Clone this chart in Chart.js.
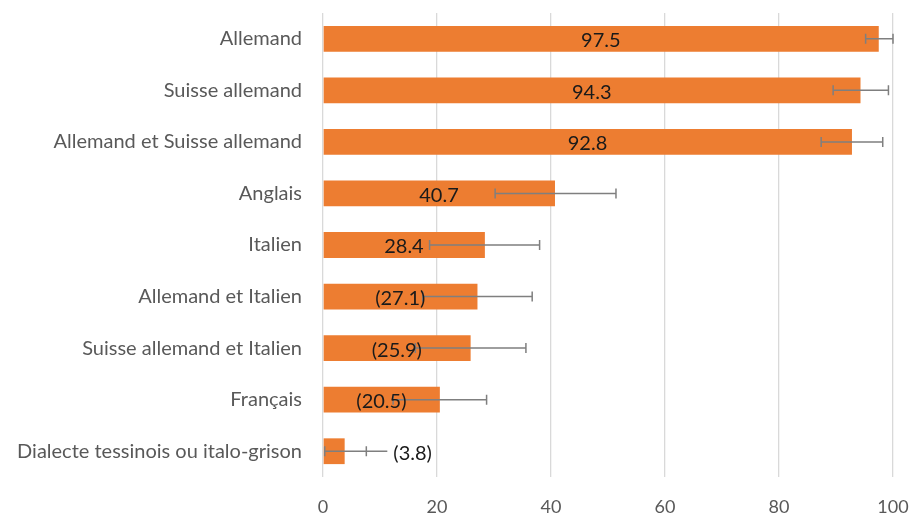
<!DOCTYPE html>
<html>
<head>
<meta charset="utf-8">
<script src="https://cdn.jsdelivr.net/npm/chart.js@4"></script>
<style>
  html, body { margin: 0; padding: 0; background: #ffffff; }
  #wrap { width: 912px; height: 513px; position: relative; }
</style>
</head>
<body>
<div id="wrap"><canvas id="c"></canvas></div>
<script>
const categories = [
  'Allemand',
  'Suisse allemand',
  'Allemand et Suisse allemand',
  'Anglais',
  'Italien',
  'Allemand et Italien',
  'Suisse allemand et Italien',
  'Français',
  'Dialecte tessinois ou italo-grison'
];
const values = [97.5, 94.3, 92.8, 40.7, 28.4, 27.1, 25.9, 20.5, 3.8];
const valueLabels = ['97.5', '94.3', '92.8', '40.7', '28.4', '(27.1)', '(25.9)', '(20.5)', '(3.8)'];
const errLow  = [95.2, 89.5, 87.4, 30.2, 18.7, 17.5, 16.2, 12.3, 0.3];
const errHigh = [100.0, 99.2, 98.2, 51.4, 38.0, 36.7, 35.6, 28.7, 7.6];
const xTicks = [0, 20, 40, 60, 80, 100];

const FONT = 'Lato, "Open Sans", sans-serif';

const overlay = {
  id: 'overlay',
  afterDatasetsDraw(chart) {
    const ctx = chart.ctx;
    const xs = chart.scales.x, ys = chart.scales.y;
    ctx.save();
    ctx.strokeStyle = '#7f7f7f';
    ctx.lineWidth = 1.5;
    const cap = 5;
    const outside = [];
    ctx.font = '20px ' + FONT;
    values.forEach((v, i) => {
      const y = ys.getPixelForValue(i);
      const x1 = xs.getPixelForValue(errLow[i]);
      const x2 = xs.getPixelForValue(errHigh[i]);
      const tw = ctx.measureText(valueLabels[i]).width;
      const barW = xs.getPixelForValue(v) - xs.getPixelForValue(0);
      const isOut = tw + 6 > barW;
      outside.push(isOut);
      ctx.beginPath();
      ctx.moveTo(x1, y); ctx.lineTo(isOut ? x2 + 21 : x2, y);
      ctx.moveTo(x1, y - cap); ctx.lineTo(x1, y + cap);
      ctx.moveTo(x2, y - cap); ctx.lineTo(x2, y + cap);
      ctx.stroke();
    });
    ctx.fillStyle = '#1a1a1a';
    ctx.textBaseline = 'middle';
    values.forEach((v, i) => {
      const y = ys.getPixelForValue(i) + 2;
      if (outside[i]) {
        ctx.textAlign = 'left';
        ctx.fillText(valueLabels[i], xs.getPixelForValue(errHigh[i]) + 27, y);
      } else {
        ctx.textAlign = 'center';
        ctx.fillText(valueLabels[i], xs.getPixelForValue(v / 2), y);
      }
    });
    ctx.restore();
  }
};

function noPad(scale) {
  scale.paddingTop = 0; scale.paddingBottom = 0;
  scale.paddingLeft = 0; scale.paddingRight = 0;
}

new Chart(document.getElementById('c'), {
  type: 'bar',
  data: {
    labels: categories,
    datasets: [{
      data: values,
      backgroundColor: '#ED7D31',
      borderWidth: 0,
      barPercentage: 0.5,
      categoryPercentage: 1.0
    }]
  },
  options: {
    indexAxis: 'y',
    responsive: true,
    maintainAspectRatio: false,
    animation: false,
    layout: { padding: { top: 13, right: 19, left: 0, bottom: 0 } },
    plugins: { legend: { display: false }, tooltip: { enabled: false } },
    scales: {
      x: {
        min: 0, max: 100,
        afterBuildTicks(scale) { scale.ticks = xTicks.map(v => ({ value: v })); },
        afterFit(scale) { scale.height = 36; noPad(scale); },
        grid: { color: '#d9d9d9', lineWidth: 1.3, drawTicks: false },
        border: { display: false },
        ticks: { color: '#595959', font: { family: FONT, size: 18 }, padding: 19 }
      },
      y: {
        afterFit(scale) { scale.width = 323; noPad(scale); },
        grid: { display: false, drawTicks: false },
        border: { display: false },
        ticks: { color: '#595959', font: { family: FONT, size: 20 }, padding: 21 }
      }
    }
  },
  plugins: [overlay]
});
</script>
</body>
</html>
